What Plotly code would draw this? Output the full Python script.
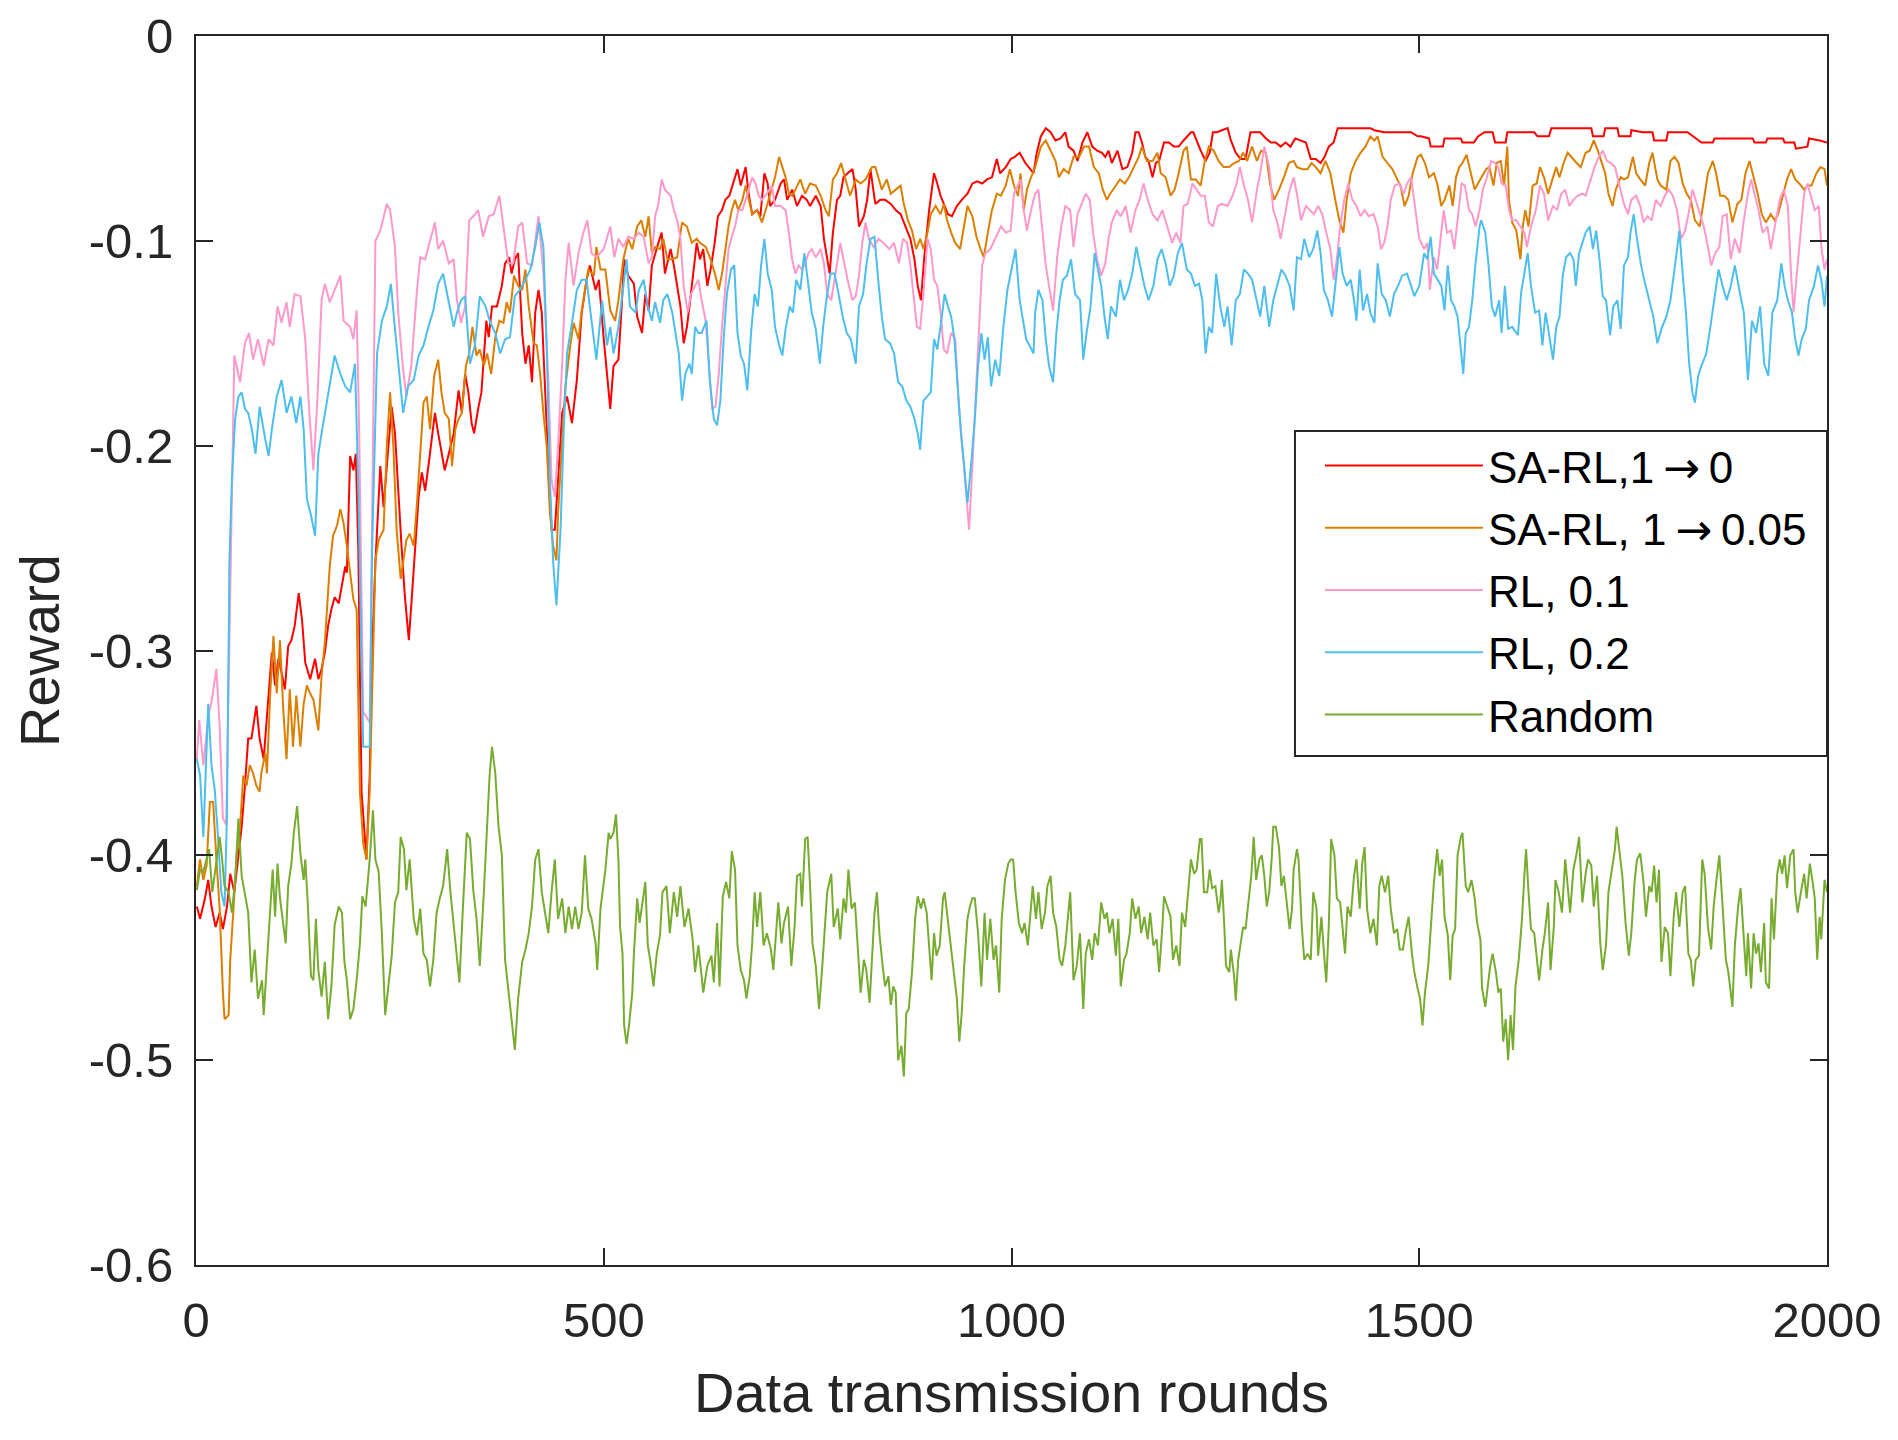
import plotly.graph_objects as go

# (round, reward) pairs
sarl_1_to_0 = [
    (1, -0.425), (5, -0.431), (11, -0.421), (15, -0.412), (19, -0.425), (24, -0.435), (29, -0.428), (33, -0.436),
    (38, -0.425), (42, -0.409), (47, -0.418), (52, -0.399), (56, -0.386), (60, -0.366), (64, -0.343), (68, -0.343),
    (74, -0.327), (78, -0.343), (83, -0.353), (87, -0.332), (93, -0.301), (97, -0.317), (101, -0.304), (105, -0.311),
    (109, -0.319), (113, -0.298), (117, -0.295), (121, -0.288), (126, -0.272), (130, -0.285), (134, -0.306), (140, -0.314),
    (146, -0.304), (150, -0.314), (154, -0.309), (158, -0.301), (162, -0.288), (166, -0.280), (170, -0.274), (175, -0.277),
    (179, -0.267), (183, -0.259), (185, -0.262), (189, -0.205), (193, -0.212), (196, -0.204), (199, -0.250), (203, -0.369),
    (209, -0.402), (213, -0.361), (216, -0.300), (220, -0.257), (226, -0.210), (230, -0.230), (236, -0.200), (240, -0.181),
    (244, -0.194), (248, -0.225), (252, -0.249), (256, -0.273), (261, -0.295), (265, -0.272), (269, -0.249), (273, -0.225),
    (277, -0.213), (281, -0.222), (285, -0.210), (289, -0.197), (293, -0.184), (297, -0.194), (301, -0.204), (305, -0.212),
    (310, -0.204), (316, -0.194), (322, -0.173), (326, -0.184), (330, -0.165), (334, -0.174), (338, -0.189), (341, -0.194),
    (346, -0.182), (350, -0.174), (356, -0.139), (359, -0.147), (363, -0.132), (369, -0.132), (375, -0.122), (379, -0.111),
    (384, -0.108), (387, -0.116), (391, -0.109), (395, -0.106), (400, -0.145), (404, -0.160), (408, -0.151), (412, -0.169),
    (416, -0.135), (420, -0.124), (424, -0.135), (428, -0.176), (432, -0.209), (436, -0.241), (440, -0.241), (444, -0.217),
    (449, -0.184), (455, -0.176), (461, -0.189), (467, -0.168), (473, -0.135), (479, -0.119), (483, -0.112), (490, -0.124),
    (494, -0.119), (500, -0.148), (508, -0.182), (512, -0.161), (518, -0.158), (522, -0.132), (525, -0.109), (530, -0.117),
    (537, -0.121), (541, -0.137), (547, -0.145), (551, -0.126), (555, -0.134), (559, -0.112), (563, -0.106), (567, -0.101),
    (571, -0.096), (575, -0.116), (582, -0.104), (586, -0.112), (590, -0.122), (594, -0.132), (598, -0.150), (602, -0.142),
    (606, -0.129), (610, -0.116), (614, -0.101), (618, -0.109), (622, -0.104), (627, -0.122), (631, -0.114), (636, -0.101),
    (640, -0.088), (645, -0.085), (649, -0.080), (654, -0.078), (659, -0.072), (664, -0.065), (668, -0.073), (674, -0.064),
    (678, -0.078), (682, -0.087), (688, -0.085), (692, -0.088), (697, -0.067), (701, -0.072), (704, -0.083), (710, -0.080),
    (717, -0.072), (721, -0.070), (725, -0.080), (731, -0.075), (737, -0.083), (743, -0.078), (749, -0.080), (753, -0.083),
    (760, -0.078), (766, -0.083), (770, -0.099), (774, -0.109), (777, -0.116), (781, -0.096), (786, -0.080), (790, -0.078),
    (794, -0.069), (799, -0.067), (805, -0.065), (809, -0.075), (813, -0.093), (819, -0.088), (823, -0.080), (827, -0.065),
    (833, -0.082), (839, -0.080), (845, -0.080), (852, -0.082), (858, -0.085), (864, -0.087), (870, -0.093), (876, -0.099),
    (881, -0.109), (885, -0.122), (889, -0.129), (893, -0.108), (899, -0.085), (905, -0.067), (909, -0.072), (913, -0.078),
    (917, -0.082), (922, -0.087), (927, -0.088), (933, -0.083), (939, -0.080), (946, -0.077), (952, -0.072), (958, -0.071),
    (964, -0.072), (970, -0.070), (976, -0.069), (982, -0.060), (986, -0.067), (993, -0.064), (999, -0.060), (1004, -0.059),
    (1010, -0.057), (1017, -0.062), (1023, -0.065), (1027, -0.067), (1031, -0.057), (1036, -0.049), (1042, -0.045), (1048, -0.047),
    (1054, -0.051), (1060, -0.050), (1066, -0.047), (1070, -0.054), (1076, -0.056), (1081, -0.061), (1087, -0.052), (1093, -0.047),
    (1099, -0.054), (1105, -0.056), (1111, -0.057), (1115, -0.059), (1119, -0.056), (1123, -0.062), (1130, -0.056), (1136, -0.065),
    (1142, -0.064), (1148, -0.057), (1152, -0.047), (1156, -0.047), (1160, -0.052), (1164, -0.059), (1168, -0.061), (1173, -0.069),
    (1177, -0.062), (1181, -0.061), (1187, -0.052), (1193, -0.052), (1199, -0.054), (1205, -0.054), (1211, -0.051), (1215, -0.049),
    (1220, -0.047), (1223, -0.047), (1227, -0.051), (1232, -0.056), (1238, -0.061), (1243, -0.057), (1247, -0.047), (1252, -0.047),
    (1258, -0.046), (1265, -0.045), (1269, -0.051), (1275, -0.057), (1281, -0.060), (1287, -0.060), (1293, -0.047), (1299, -0.047),
    (1305, -0.047), (1312, -0.050), (1318, -0.052), (1324, -0.052), (1330, -0.054), (1336, -0.052), (1342, -0.054), (1348, -0.050),
    (1355, -0.051), (1361, -0.052), (1367, -0.060), (1373, -0.060), (1379, -0.062), (1384, -0.059), (1389, -0.054), (1395, -0.052),
    (1400, -0.045), (1420, -0.045), (1440, -0.045), (1445, -0.046), (1457, -0.047), (1469, -0.047), (1490, -0.047), (1498, -0.049),
    (1502, -0.049), (1512, -0.050), (1514, -0.054), (1529, -0.054), (1531, -0.050), (1551, -0.050), (1553, -0.052), (1567, -0.052),
    (1572, -0.049), (1580, -0.047), (1590, -0.047), (1593, -0.052), (1606, -0.052), (1608, -0.047), (1641, -0.047), (1645, -0.049),
    (1659, -0.049), (1662, -0.045), (1711, -0.045), (1713, -0.049), (1726, -0.049), (1728, -0.045), (1743, -0.045), (1745, -0.049),
    (1759, -0.049), (1760, -0.046), (1774, -0.047), (1786, -0.047), (1788, -0.051), (1803, -0.051), (1805, -0.047), (1829, -0.047),
    (1846, -0.052), (1860, -0.052), (1862, -0.050), (1909, -0.050), (1911, -0.052), (1925, -0.052), (1927, -0.050), (1946, -0.050),
    (1948, -0.052), (1960, -0.052), (1962, -0.055), (1976, -0.054), (1978, -0.050), (1991, -0.051), (2000, -0.052),
]

sarl_1_to_005 = [
    (1, -0.415), (5, -0.402), (9, -0.412), (13, -0.405), (17, -0.374), (21, -0.374), (25, -0.402), (29, -0.426),
    (33, -0.467), (35, -0.480), (40, -0.478), (42, -0.451), (46, -0.426), (50, -0.399), (54, -0.386), (58, -0.361),
    (62, -0.366), (66, -0.356), (70, -0.360), (74, -0.366), (78, -0.369), (80, -0.360), (85, -0.350), (87, -0.360),
    (91, -0.321), (95, -0.293), (99, -0.321), (103, -0.295), (107, -0.329), (111, -0.353), (115, -0.319), (119, -0.347),
    (123, -0.322), (128, -0.347), (132, -0.326), (136, -0.317), (140, -0.321), (144, -0.324), (150, -0.339), (154, -0.312),
    (158, -0.296), (164, -0.259), (168, -0.244), (173, -0.239), (177, -0.231), (181, -0.238), (185, -0.249), (189, -0.262),
    (193, -0.275), (197, -0.280), (201, -0.369), (205, -0.394), (209, -0.402), (213, -0.369), (217, -0.304), (220, -0.256),
    (224, -0.246), (230, -0.241), (234, -0.200), (238, -0.174), (242, -0.200), (246, -0.241), (251, -0.265), (254, -0.256),
    (258, -0.246), (262, -0.243), (267, -0.249), (271, -0.228), (275, -0.205), (279, -0.179), (283, -0.176), (287, -0.192),
    (292, -0.166), (297, -0.158), (301, -0.174), (305, -0.184), (310, -0.187), (314, -0.210), (318, -0.192), (322, -0.187),
    (326, -0.184), (331, -0.161), (335, -0.155), (339, -0.142), (344, -0.156), (348, -0.153), (353, -0.161), (357, -0.155),
    (362, -0.165), (367, -0.147), (372, -0.139), (377, -0.140), (381, -0.130), (385, -0.135), (390, -0.117), (395, -0.122),
    (400, -0.124), (404, -0.114), (408, -0.132), (414, -0.150), (418, -0.151), (422, -0.165), (426, -0.184), (430, -0.200),
    (434, -0.233), (438, -0.249), (442, -0.256), (444, -0.233), (449, -0.197), (453, -0.171), (459, -0.151), (463, -0.140),
    (469, -0.148), (473, -0.134), (477, -0.124), (481, -0.114), (488, -0.117), (491, -0.103), (496, -0.114), (502, -0.114),
    (508, -0.134), (514, -0.139), (518, -0.129), (524, -0.109), (530, -0.099), (535, -0.104), (541, -0.093), (546, -0.090),
    (551, -0.098), (555, -0.088), (559, -0.106), (563, -0.103), (569, -0.104), (573, -0.099), (578, -0.109), (584, -0.109),
    (590, -0.108), (596, -0.091), (602, -0.093), (608, -0.101), (614, -0.099), (618, -0.101), (625, -0.103), (631, -0.109),
    (637, -0.117), (641, -0.124), (645, -0.116), (649, -0.104), (653, -0.093), (657, -0.085), (661, -0.080), (665, -0.085),
    (670, -0.080), (674, -0.073), (678, -0.080), (682, -0.087), (688, -0.085), (694, -0.091), (700, -0.083), (706, -0.075),
    (710, -0.069), (715, -0.059), (719, -0.064), (723, -0.069), (727, -0.077), (731, -0.078), (735, -0.075), (741, -0.070),
    (747, -0.077), (753, -0.072), (760, -0.073), (766, -0.078), (772, -0.085), (776, -0.088), (781, -0.070), (786, -0.067),
    (791, -0.062), (796, -0.069), (802, -0.078), (809, -0.070), (815, -0.072), (821, -0.070), (825, -0.067), (829, -0.064),
    (833, -0.064), (837, -0.069), (841, -0.075), (847, -0.070), (852, -0.077), (858, -0.075), (864, -0.073), (868, -0.082),
    (873, -0.090), (878, -0.095), (883, -0.104), (888, -0.099), (892, -0.104), (897, -0.096), (901, -0.087), (907, -0.083),
    (913, -0.087), (917, -0.082), (921, -0.090), (926, -0.096), (931, -0.101), (937, -0.104), (942, -0.091), (946, -0.083),
    (952, -0.088), (957, -0.098), (962, -0.104), (966, -0.108), (971, -0.096), (976, -0.085), (982, -0.077), (987, -0.078),
    (993, -0.073), (998, -0.065), (1003, -0.073), (1008, -0.078), (1011, -0.067), (1015, -0.085), (1019, -0.075), (1023, -0.070),
    (1029, -0.064), (1036, -0.054), (1042, -0.051), (1048, -0.056), (1054, -0.061), (1058, -0.069), (1064, -0.065), (1070, -0.067),
    (1076, -0.059), (1083, -0.059), (1089, -0.054), (1095, -0.054), (1101, -0.064), (1107, -0.067), (1112, -0.075), (1117, -0.080),
    (1121, -0.077), (1128, -0.073), (1133, -0.070), (1139, -0.072), (1144, -0.069), (1150, -0.064), (1156, -0.059), (1160, -0.054),
    (1166, -0.061), (1173, -0.061), (1179, -0.057), (1183, -0.067), (1189, -0.069), (1195, -0.078), (1200, -0.075), (1205, -0.067),
    (1211, -0.056), (1215, -0.054), (1220, -0.070), (1226, -0.070), (1232, -0.073), (1237, -0.061), (1242, -0.054), (1248, -0.056),
    (1254, -0.061), (1260, -0.064), (1267, -0.064), (1273, -0.062), (1279, -0.061), (1284, -0.057), (1289, -0.061), (1295, -0.054),
    (1301, -0.061), (1306, -0.056), (1312, -0.057), (1317, -0.072), (1322, -0.080), (1328, -0.075), (1334, -0.069), (1340, -0.062),
    (1346, -0.061), (1350, -0.064), (1357, -0.065), (1363, -0.065), (1368, -0.062), (1373, -0.064), (1379, -0.067), (1385, -0.061),
    (1391, -0.067), (1398, -0.082), (1402, -0.090), (1407, -0.096), (1411, -0.080), (1416, -0.067), (1422, -0.061), (1428, -0.057),
    (1434, -0.054), (1440, -0.049), (1445, -0.051), (1449, -0.049), (1455, -0.059), (1461, -0.062), (1467, -0.065), (1473, -0.070),
    (1477, -0.073), (1482, -0.083), (1487, -0.078), (1492, -0.067), (1498, -0.059), (1502, -0.058), (1507, -0.062), (1512, -0.069),
    (1518, -0.067), (1522, -0.072), (1527, -0.083), (1531, -0.080), (1537, -0.073), (1541, -0.083), (1545, -0.069), (1549, -0.064),
    (1553, -0.062), (1558, -0.058), (1563, -0.067), (1568, -0.075), (1572, -0.072), (1578, -0.068), (1582, -0.065), (1586, -0.064),
    (1591, -0.073), (1595, -0.062), (1600, -0.061), (1604, -0.073), (1608, -0.054), (1610, -0.080), (1614, -0.091), (1619, -0.095),
    (1624, -0.109), (1627, -0.093), (1630, -0.085), (1634, -0.093), (1639, -0.073), (1644, -0.072), (1648, -0.064), (1653, -0.069),
    (1658, -0.077), (1664, -0.069), (1668, -0.064), (1672, -0.069), (1677, -0.062), (1682, -0.057), (1688, -0.060), (1693, -0.062),
    (1698, -0.064), (1704, -0.057), (1709, -0.056), (1714, -0.051), (1719, -0.056), (1723, -0.061), (1728, -0.067), (1732, -0.077),
    (1737, -0.083), (1741, -0.075), (1747, -0.069), (1751, -0.070), (1756, -0.069), (1762, -0.059), (1766, -0.067), (1771, -0.070),
    (1777, -0.073), (1782, -0.062), (1786, -0.057), (1792, -0.070), (1796, -0.073), (1803, -0.075), (1808, -0.061), (1813, -0.059),
    (1818, -0.062), (1823, -0.072), (1828, -0.077), (1833, -0.080), (1838, -0.090), (1844, -0.093), (1849, -0.080), (1854, -0.067),
    (1860, -0.061), (1864, -0.067), (1869, -0.078), (1874, -0.078), (1879, -0.080), (1884, -0.091), (1890, -0.082), (1895, -0.080),
    (1900, -0.067), (1905, -0.061), (1910, -0.069), (1915, -0.077), (1920, -0.087), (1925, -0.091), (1931, -0.087), (1936, -0.090),
    (1940, -0.087), (1946, -0.078), (1951, -0.070), (1956, -0.065), (1961, -0.070), (1966, -0.072), (1972, -0.075), (1976, -0.073),
    (1981, -0.073), (1987, -0.067), (1992, -0.064), (1997, -0.065), (2000, -0.073),
]

rl_01 = [
    (1, -0.353), (4, -0.334), (9, -0.356), (15, -0.332), (19, -0.325), (25, -0.309), (29, -0.337), (33, -0.382),
    (37, -0.385), (47, -0.156), (54, -0.169), (60, -0.150), (65, -0.145), (70, -0.158), (76, -0.148), (83, -0.161),
    (89, -0.148), (95, -0.151), (100, -0.132), (105, -0.140), (111, -0.130), (115, -0.142), (121, -0.126), (128, -0.127),
    (134, -0.148), (139, -0.184), (144, -0.212), (149, -0.176), (154, -0.129), (158, -0.121), (164, -0.130), (170, -0.124),
    (177, -0.117), (181, -0.139), (189, -0.142), (193, -0.148), (197, -0.134), (200, -0.190), (205, -0.330), (213, -0.335),
    (220, -0.100), (226, -0.095), (234, -0.082), (238, -0.085), (244, -0.103), (248, -0.135), (254, -0.163), (258, -0.176),
    (264, -0.161), (271, -0.124), (275, -0.108), (281, -0.109), (287, -0.100), (293, -0.091), (297, -0.104), (303, -0.100),
    (310, -0.111), (316, -0.109), (320, -0.129), (325, -0.140), (330, -0.132), (335, -0.090), (340, -0.088), (346, -0.085),
    (352, -0.098), (359, -0.088), (365, -0.087), (372, -0.078), (377, -0.093), (383, -0.111), (389, -0.111), (395, -0.093),
    (400, -0.091), (406, -0.111), (412, -0.112), (420, -0.088), (426, -0.116), (432, -0.168), (436, -0.217), (440, -0.225),
    (444, -0.200), (449, -0.160), (453, -0.119), (457, -0.101), (463, -0.122), (469, -0.106), (475, -0.096), (480, -0.090),
    (485, -0.106), (491, -0.108), (500, -0.104), (508, -0.093), (513, -0.108), (518, -0.099), (524, -0.103), (530, -0.098),
    (537, -0.099), (543, -0.096), (549, -0.098), (555, -0.111), (559, -0.108), (563, -0.088), (567, -0.082), (571, -0.070),
    (575, -0.075), (582, -0.078), (586, -0.085), (590, -0.090), (594, -0.099), (598, -0.122), (603, -0.135), (607, -0.126),
    (612, -0.122), (616, -0.119), (620, -0.129), (625, -0.139), (629, -0.161), (633, -0.182), (637, -0.181), (641, -0.165),
    (645, -0.142), (649, -0.121), (653, -0.104), (657, -0.098), (661, -0.093), (665, -0.085), (670, -0.085), (674, -0.080),
    (678, -0.075), (682, -0.069), (686, -0.072), (690, -0.078), (694, -0.080), (700, -0.077), (706, -0.073), (710, -0.083),
    (717, -0.083), (723, -0.085), (727, -0.096), (731, -0.109), (735, -0.116), (739, -0.112), (743, -0.114), (747, -0.111),
    (751, -0.106), (755, -0.104), (760, -0.108), (766, -0.104), (770, -0.111), (774, -0.126), (779, -0.129), (784, -0.117),
    (790, -0.101), (794, -0.109), (799, -0.119), (805, -0.129), (809, -0.127), (813, -0.117), (817, -0.101), (821, -0.091),
    (825, -0.099), (831, -0.103), (837, -0.099), (843, -0.101), (850, -0.104), (856, -0.101), (862, -0.111), (867, -0.099),
    (872, -0.101), (876, -0.112), (881, -0.129), (884, -0.142), (888, -0.143), (892, -0.126), (897, -0.099), (901, -0.104),
    (905, -0.119), (909, -0.122), (913, -0.135), (917, -0.153), (921, -0.155), (926, -0.145), (931, -0.148), (935, -0.178),
    (940, -0.202), (944, -0.223), (948, -0.241), (952, -0.210), (956, -0.178), (960, -0.145), (964, -0.112), (968, -0.106),
    (974, -0.104), (980, -0.099), (987, -0.093), (993, -0.096), (999, -0.095), (1003, -0.077), (1008, -0.073), (1011, -0.070),
    (1015, -0.085), (1019, -0.095), (1024, -0.085), (1029, -0.077), (1033, -0.075), (1038, -0.096), (1042, -0.112), (1046, -0.122),
    (1051, -0.134), (1056, -0.108), (1061, -0.093), (1066, -0.083), (1072, -0.085), (1076, -0.103), (1081, -0.087), (1085, -0.083),
    (1091, -0.077), (1096, -0.080), (1100, -0.096), (1105, -0.109), (1110, -0.117), (1115, -0.111), (1119, -0.099), (1123, -0.091),
    (1129, -0.085), (1134, -0.088), (1140, -0.083), (1146, -0.096), (1152, -0.085), (1157, -0.080), (1162, -0.072), (1167, -0.080),
    (1173, -0.087), (1179, -0.090), (1185, -0.085), (1191, -0.093), (1197, -0.101), (1202, -0.096), (1207, -0.101), (1211, -0.083),
    (1216, -0.082), (1222, -0.072), (1227, -0.075), (1232, -0.078), (1237, -0.078), (1242, -0.091), (1247, -0.093), (1253, -0.083),
    (1258, -0.082), (1265, -0.083), (1271, -0.078), (1276, -0.072), (1280, -0.064), (1285, -0.073), (1290, -0.080), (1295, -0.091),
    (1301, -0.075), (1305, -0.067), (1310, -0.054), (1316, -0.064), (1321, -0.085), (1326, -0.091), (1330, -0.099), (1335, -0.087),
    (1340, -0.077), (1346, -0.069), (1350, -0.077), (1355, -0.090), (1361, -0.083), (1366, -0.085), (1371, -0.087), (1376, -0.083),
    (1381, -0.087), (1386, -0.096), (1391, -0.104), (1395, -0.119), (1399, -0.109), (1403, -0.093), (1408, -0.080), (1413, -0.072),
    (1418, -0.080), (1423, -0.083), (1428, -0.088), (1433, -0.085), (1438, -0.088), (1444, -0.087), (1449, -0.093), (1453, -0.104),
    (1457, -0.101), (1461, -0.093), (1465, -0.080), (1470, -0.073), (1475, -0.072), (1481, -0.077), (1485, -0.072), (1490, -0.069),
    (1496, -0.087), (1500, -0.099), (1506, -0.104), (1510, -0.101), (1513, -0.124), (1518, -0.108), (1522, -0.114), (1526, -0.101),
    (1530, -0.085), (1534, -0.096), (1539, -0.095), (1543, -0.104), (1548, -0.087), (1552, -0.072), (1556, -0.073), (1561, -0.085),
    (1565, -0.087), (1569, -0.093), (1574, -0.085), (1578, -0.075), (1583, -0.069), (1588, -0.061), (1593, -0.062), (1597, -0.064),
    (1601, -0.072), (1606, -0.073), (1610, -0.085), (1614, -0.090), (1619, -0.090), (1624, -0.093), (1629, -0.096), (1632, -0.103),
    (1637, -0.093), (1643, -0.085), (1648, -0.073), (1653, -0.077), (1658, -0.090), (1664, -0.083), (1669, -0.085), (1674, -0.077),
    (1679, -0.075), (1684, -0.083), (1689, -0.080), (1694, -0.078), (1700, -0.077), (1704, -0.078), (1710, -0.070), (1715, -0.064),
    (1720, -0.059), (1725, -0.056), (1730, -0.061), (1735, -0.062), (1740, -0.064), (1745, -0.072), (1751, -0.082), (1756, -0.087),
    (1760, -0.080), (1766, -0.078), (1771, -0.083), (1775, -0.091), (1780, -0.088), (1785, -0.090), (1790, -0.080), (1796, -0.083),
    (1801, -0.078), (1806, -0.075), (1811, -0.078), (1816, -0.085), (1821, -0.099), (1826, -0.095), (1831, -0.085), (1835, -0.075),
    (1839, -0.080), (1844, -0.087), (1849, -0.093), (1854, -0.103), (1858, -0.112), (1863, -0.106), (1868, -0.103), (1872, -0.088),
    (1877, -0.087), (1882, -0.109), (1887, -0.099), (1893, -0.106), (1898, -0.090), (1903, -0.077), (1907, -0.070), (1911, -0.077),
    (1916, -0.085), (1921, -0.096), (1927, -0.093), (1931, -0.104), (1936, -0.093), (1942, -0.080), (1947, -0.075), (1952, -0.083),
    (1956, -0.117), (1959, -0.135), (1963, -0.116), (1968, -0.093), (1972, -0.077), (1976, -0.072), (1981, -0.080), (1985, -0.085),
    (1990, -0.083), (1993, -0.103), (1997, -0.114), (2000, -0.109),
]

rl_02 = [
    (1, -0.353), (5, -0.361), (9, -0.391), (15, -0.326), (19, -0.356), (23, -0.368), (27, -0.391), (31, -0.418),
    (35, -0.425), (38, -0.380), (41, -0.256), (44, -0.217), (48, -0.187), (52, -0.176), (56, -0.174), (60, -0.182),
    (64, -0.184), (68, -0.191), (73, -0.204), (78, -0.181), (85, -0.197), (89, -0.205), (93, -0.192), (99, -0.176),
    (105, -0.168), (111, -0.184), (117, -0.176), (123, -0.189), (128, -0.176), (132, -0.192), (136, -0.226), (141, -0.234),
    (146, -0.244), (150, -0.204), (154, -0.194), (158, -0.184), (164, -0.171), (170, -0.156), (177, -0.165), (183, -0.171),
    (189, -0.174), (195, -0.160), (199, -0.220), (205, -0.347), (213, -0.347), (216, -0.250), (222, -0.155), (228, -0.139),
    (234, -0.132), (239, -0.121), (244, -0.143), (248, -0.158), (254, -0.184), (260, -0.171), (267, -0.168), (273, -0.156),
    (279, -0.151), (285, -0.142), (291, -0.134), (297, -0.121), (303, -0.116), (310, -0.130), (316, -0.142), (320, -0.135),
    (325, -0.129), (330, -0.127), (336, -0.160), (342, -0.151), (348, -0.127), (355, -0.132), (361, -0.140), (367, -0.145),
    (373, -0.155), (379, -0.148), (385, -0.147), (391, -0.127), (397, -0.124), (404, -0.119), (410, -0.114), (416, -0.103),
    (421, -0.091), (426, -0.103), (430, -0.151), (434, -0.217), (438, -0.257), (442, -0.278), (447, -0.241), (451, -0.192),
    (455, -0.155), (461, -0.140), (467, -0.124), (473, -0.119), (479, -0.119), (485, -0.139), (491, -0.158), (498, -0.129),
    (504, -0.151), (508, -0.142), (512, -0.155), (518, -0.142), (524, -0.122), (528, -0.109), (532, -0.132), (539, -0.135),
    (543, -0.124), (549, -0.119), (554, -0.132), (559, -0.139), (563, -0.130), (569, -0.140), (573, -0.129), (578, -0.126),
    (584, -0.135), (588, -0.145), (592, -0.155), (596, -0.178), (600, -0.165), (605, -0.160), (608, -0.165), (612, -0.142),
    (616, -0.145), (620, -0.145), (626, -0.139), (630, -0.168), (635, -0.187), (639, -0.190), (643, -0.178), (647, -0.148),
    (651, -0.126), (656, -0.114), (660, -0.112), (664, -0.145), (668, -0.156), (672, -0.160), (676, -0.173), (681, -0.143),
    (685, -0.126), (689, -0.132), (693, -0.112), (697, -0.099), (701, -0.116), (706, -0.124), (710, -0.142), (715, -0.151),
    (719, -0.156), (723, -0.143), (728, -0.132), (732, -0.135), (736, -0.119), (741, -0.124), (746, -0.106), (751, -0.122),
    (755, -0.135), (760, -0.143), (765, -0.160), (769, -0.142), (773, -0.129), (778, -0.116), (783, -0.116), (788, -0.126),
    (793, -0.137), (798, -0.145), (803, -0.148), (809, -0.160), (813, -0.132), (818, -0.126), (822, -0.112), (827, -0.099),
    (832, -0.098), (837, -0.121), (841, -0.137), (845, -0.148), (851, -0.150), (856, -0.155), (861, -0.169), (866, -0.171),
    (871, -0.178), (876, -0.181), (881, -0.187), (885, -0.194), (888, -0.202), (892, -0.178), (897, -0.176), (901, -0.174),
    (905, -0.148), (909, -0.153), (914, -0.139), (918, -0.126), (922, -0.132), (926, -0.137), (930, -0.148), (934, -0.169),
    (938, -0.194), (942, -0.210), (946, -0.228), (951, -0.207), (955, -0.187), (959, -0.161), (963, -0.145), (967, -0.158),
    (971, -0.147), (975, -0.171), (980, -0.158), (985, -0.166), (990, -0.142), (995, -0.124), (999, -0.116), (1005, -0.104),
    (1010, -0.129), (1014, -0.139), (1018, -0.148), (1022, -0.151), (1027, -0.155), (1029, -0.135), (1033, -0.124), (1038, -0.129),
    (1042, -0.148), (1046, -0.161), (1051, -0.169), (1055, -0.145), (1059, -0.129), (1063, -0.119), (1068, -0.117), (1073, -0.109),
    (1078, -0.126), (1084, -0.129), (1088, -0.158), (1092, -0.145), (1097, -0.132), (1102, -0.106), (1106, -0.114), (1110, -0.122),
    (1114, -0.137), (1118, -0.148), (1122, -0.132), (1128, -0.137), (1133, -0.119), (1138, -0.129), (1143, -0.124), (1148, -0.116),
    (1153, -0.103), (1158, -0.112), (1163, -0.122), (1168, -0.129), (1174, -0.122), (1179, -0.109), (1184, -0.104), (1189, -0.111),
    (1194, -0.122), (1199, -0.117), (1204, -0.106), (1209, -0.101), (1215, -0.114), (1220, -0.116), (1225, -0.122), (1230, -0.121),
    (1234, -0.129), (1238, -0.155), (1242, -0.142), (1246, -0.145), (1251, -0.116), (1256, -0.132), (1261, -0.142), (1265, -0.132),
    (1270, -0.151), (1275, -0.129), (1280, -0.126), (1285, -0.114), (1290, -0.116), (1295, -0.119), (1301, -0.129), (1305, -0.137),
    (1310, -0.122), (1316, -0.142), (1321, -0.129), (1326, -0.122), (1331, -0.114), (1336, -0.117), (1341, -0.122), (1346, -0.134),
    (1350, -0.108), (1355, -0.109), (1359, -0.099), (1365, -0.108), (1370, -0.104), (1375, -0.095), (1379, -0.106), (1383, -0.124),
    (1388, -0.129), (1393, -0.137), (1398, -0.116), (1402, -0.103), (1406, -0.116), (1411, -0.122), (1416, -0.119), (1420, -0.129),
    (1423, -0.139), (1427, -0.114), (1431, -0.134), (1436, -0.126), (1440, -0.135), (1445, -0.140), (1449, -0.111), (1454, -0.126),
    (1459, -0.129), (1464, -0.137), (1469, -0.126), (1474, -0.122), (1479, -0.117), (1485, -0.116), (1490, -0.122), (1494, -0.127),
    (1500, -0.122), (1506, -0.106), (1510, -0.109), (1514, -0.098), (1518, -0.116), (1522, -0.119), (1527, -0.122), (1531, -0.134),
    (1535, -0.112), (1539, -0.129), (1543, -0.132), (1547, -0.137), (1550, -0.148), (1554, -0.165), (1557, -0.145), (1561, -0.142),
    (1565, -0.129), (1569, -0.111), (1574, -0.093), (1576, -0.090), (1581, -0.096), (1585, -0.112), (1589, -0.132), (1593, -0.137),
    (1598, -0.129), (1601, -0.145), (1605, -0.122), (1609, -0.143), (1614, -0.142), (1621, -0.146), (1625, -0.125), (1629, -0.116),
    (1633, -0.106), (1637, -0.122), (1642, -0.135), (1647, -0.134), (1651, -0.151), (1655, -0.135), (1659, -0.145), (1664, -0.158),
    (1668, -0.142), (1672, -0.137), (1676, -0.117), (1680, -0.108), (1685, -0.106), (1689, -0.109), (1692, -0.122), (1696, -0.106),
    (1700, -0.101), (1704, -0.096), (1709, -0.093), (1713, -0.104), (1717, -0.095), (1721, -0.109), (1725, -0.127), (1729, -0.129),
    (1734, -0.146), (1738, -0.132), (1743, -0.129), (1747, -0.143), (1751, -0.112), (1756, -0.108), (1759, -0.096), (1763, -0.087),
    (1767, -0.099), (1772, -0.112), (1777, -0.121), (1782, -0.129), (1787, -0.137), (1792, -0.150), (1797, -0.143), (1803, -0.137),
    (1808, -0.129), (1812, -0.117), (1816, -0.104), (1819, -0.095), (1823, -0.116), (1827, -0.135), (1831, -0.160), (1835, -0.174),
    (1838, -0.179), (1842, -0.166), (1846, -0.161), (1852, -0.155), (1857, -0.142), (1862, -0.129), (1867, -0.114), (1872, -0.122),
    (1877, -0.129), (1882, -0.122), (1887, -0.112), (1893, -0.125), (1898, -0.135), (1903, -0.168), (1908, -0.139), (1913, -0.145),
    (1918, -0.132), (1923, -0.160), (1928, -0.166), (1933, -0.135), (1939, -0.129), (1944, -0.111), (1948, -0.122), (1952, -0.129),
    (1957, -0.135), (1961, -0.148), (1965, -0.156), (1969, -0.148), (1974, -0.143), (1978, -0.129), (1984, -0.122), (1989, -0.112),
    (1993, -0.119), (1997, -0.132), (2000, -0.117),
]

random_policy = [
    (1, -0.417), (5, -0.407), (9, -0.408), (13, -0.402), (16, -0.397), (20, -0.418), (24, -0.407), (29, -0.391),
    (32, -0.402), (35, -0.415), (40, -0.418), (44, -0.428), (48, -0.412), (52, -0.382), (56, -0.410), (60, -0.420),
    (64, -0.428), (68, -0.462), (72, -0.446), (76, -0.470), (81, -0.461), (83, -0.478), (87, -0.454), (91, -0.428),
    (94, -0.407), (97, -0.430), (100, -0.404), (103, -0.421), (107, -0.434), (110, -0.443), (113, -0.415), (117, -0.404),
    (120, -0.389), (124, -0.376), (128, -0.399), (132, -0.412), (134, -0.402), (137, -0.423), (141, -0.459), (144, -0.461),
    (147, -0.431), (150, -0.456), (154, -0.469), (158, -0.452), (162, -0.480), (166, -0.464), (170, -0.434), (175, -0.425),
    (179, -0.428), (182, -0.452), (185, -0.461), (189, -0.480), (193, -0.475), (197, -0.461), (201, -0.443), (204, -0.420),
    (208, -0.425), (213, -0.402), (217, -0.378), (220, -0.402), (224, -0.408), (228, -0.439), (232, -0.478), (236, -0.465),
    (240, -0.449), (244, -0.423), (248, -0.418), (251, -0.391), (255, -0.397), (258, -0.417), (262, -0.402), (267, -0.431),
    (271, -0.439), (275, -0.426), (279, -0.448), (283, -0.451), (287, -0.464), (291, -0.451), (295, -0.428), (299, -0.421),
    (303, -0.415), (308, -0.397), (312, -0.418), (316, -0.434), (320, -0.451), (323, -0.462), (327, -0.428), (332, -0.389),
    (336, -0.392), (340, -0.417), (344, -0.431), (348, -0.454), (353, -0.418), (357, -0.382), (360, -0.361), (363, -0.347),
    (367, -0.360), (371, -0.386), (375, -0.400), (379, -0.451), (383, -0.465), (387, -0.482), (391, -0.495), (395, -0.470),
    (400, -0.452), (404, -0.446), (408, -0.438), (412, -0.425), (416, -0.402), (420, -0.397), (424, -0.418), (428, -0.428),
    (432, -0.438), (436, -0.418), (440, -0.402), (444, -0.431), (449, -0.421), (453, -0.438), (457, -0.425), (461, -0.436),
    (465, -0.425), (469, -0.436), (473, -0.428), (477, -0.400), (481, -0.426), (485, -0.431), (490, -0.443), (492, -0.456),
    (496, -0.426), (502, -0.407), (506, -0.389), (508, -0.392), (512, -0.389), (515, -0.380), (518, -0.402), (520, -0.435),
    (523, -0.448), (525, -0.483), (528, -0.492), (531, -0.483), (535, -0.467), (537, -0.448), (541, -0.421), (544, -0.433),
    (548, -0.421), (551, -0.413), (554, -0.444), (557, -0.451), (561, -0.464), (565, -0.448), (569, -0.439), (572, -0.418),
    (577, -0.415), (581, -0.438), (586, -0.418), (590, -0.430), (594, -0.415), (599, -0.435), (604, -0.426), (609, -0.441),
    (612, -0.457), (616, -0.444), (620, -0.459), (622, -0.467), (627, -0.454), (632, -0.449), (635, -0.462), (639, -0.433),
    (642, -0.464), (646, -0.420), (650, -0.413), (654, -0.421), (657, -0.398), (661, -0.407), (664, -0.444), (668, -0.456),
    (672, -0.461), (675, -0.470), (679, -0.459), (682, -0.443), (685, -0.418), (688, -0.435), (692, -0.418), (696, -0.444),
    (700, -0.438), (705, -0.446), (708, -0.456), (711, -0.438), (714, -0.423), (718, -0.443), (721, -0.433), (726, -0.425),
    (730, -0.454), (734, -0.435), (737, -0.410), (741, -0.409), (743, -0.425), (747, -0.392), (750, -0.391), (753, -0.415),
    (756, -0.443), (760, -0.454), (764, -0.475), (768, -0.454), (771, -0.435), (774, -0.418), (779, -0.409), (782, -0.435),
    (787, -0.426), (790, -0.441), (794, -0.421), (797, -0.428), (800, -0.407), (804, -0.426), (808, -0.423), (811, -0.441),
    (815, -0.467), (819, -0.451), (822, -0.456), (826, -0.472), (829, -0.448), (832, -0.428), (835, -0.418), (838, -0.438),
    (842, -0.454), (845, -0.464), (849, -0.459), (852, -0.473), (855, -0.464), (858, -0.467), (861, -0.500), (865, -0.493),
    (868, -0.508), (871, -0.477), (874, -0.475), (878, -0.457), (882, -0.430), (885, -0.420), (889, -0.426), (892, -0.421),
    (896, -0.428), (900, -0.451), (902, -0.461), (905, -0.438), (908, -0.449), (912, -0.444), (916, -0.421), (918, -0.418),
    (921, -0.428), (925, -0.444), (929, -0.457), (933, -0.470), (936, -0.491), (939, -0.477), (942, -0.454), (946, -0.431),
    (949, -0.425), (952, -0.421), (955, -0.421), (959, -0.438), (963, -0.464), (967, -0.428), (970, -0.451), (974, -0.431),
    (978, -0.451), (981, -0.444), (985, -0.467), (988, -0.431), (992, -0.412), (996, -0.404), (999, -0.402), (1002, -0.402),
    (1005, -0.418), (1009, -0.433), (1013, -0.438), (1016, -0.433), (1020, -0.444), (1023, -0.430), (1026, -0.415), (1030, -0.431),
    (1033, -0.418), (1037, -0.436), (1041, -0.428), (1044, -0.415), (1048, -0.410), (1051, -0.428), (1055, -0.435), (1059, -0.451),
    (1062, -0.454), (1066, -0.444), (1070, -0.428), (1072, -0.418), (1076, -0.461), (1080, -0.454), (1084, -0.438), (1088, -0.475),
    (1091, -0.448), (1095, -0.441), (1099, -0.451), (1102, -0.438), (1106, -0.444), (1110, -0.423), (1114, -0.431), (1117, -0.428),
    (1120, -0.438), (1124, -0.431), (1128, -0.449), (1131, -0.431), (1134, -0.464), (1138, -0.451), (1141, -0.448), (1145, -0.438),
    (1148, -0.421), (1152, -0.431), (1156, -0.425), (1159, -0.438), (1163, -0.430), (1167, -0.441), (1170, -0.428), (1174, -0.444),
    (1178, -0.441), (1181, -0.457), (1185, -0.435), (1187, -0.420), (1191, -0.425), (1195, -0.430), (1198, -0.451), (1202, -0.444),
    (1206, -0.454), (1209, -0.428), (1213, -0.435), (1216, -0.421), (1220, -0.402), (1224, -0.409), (1227, -0.407), (1231, -0.392),
    (1233, -0.392), (1236, -0.418), (1240, -0.418), (1243, -0.407), (1246, -0.416), (1250, -0.415), (1254, -0.428), (1256, -0.423),
    (1258, -0.412), (1261, -0.435), (1263, -0.454), (1267, -0.457), (1269, -0.446), (1273, -0.459), (1275, -0.471), (1278, -0.451),
    (1281, -0.444), (1284, -0.435), (1287, -0.436), (1291, -0.421), (1294, -0.410), (1297, -0.391), (1300, -0.412), (1304, -0.402),
    (1307, -0.400), (1310, -0.410), (1313, -0.425), (1316, -0.418), (1319, -0.402), (1321, -0.386), (1324, -0.386), (1328, -0.396),
    (1331, -0.415), (1334, -0.410), (1338, -0.426), (1341, -0.436), (1344, -0.426), (1346, -0.407), (1350, -0.397), (1352, -0.402),
    (1356, -0.435), (1359, -0.451), (1363, -0.448), (1367, -0.451), (1370, -0.418), (1374, -0.426), (1376, -0.449), (1380, -0.430),
    (1384, -0.452), (1386, -0.462), (1389, -0.435), (1392, -0.392), (1396, -0.400), (1399, -0.421), (1403, -0.423), (1406, -0.435),
    (1409, -0.448), (1412, -0.425), (1416, -0.430), (1420, -0.410), (1423, -0.402), (1427, -0.426), (1430, -0.404), (1433, -0.396),
    (1436, -0.426), (1440, -0.438), (1444, -0.431), (1448, -0.444), (1451, -0.415), (1454, -0.410), (1458, -0.418), (1462, -0.410),
    (1465, -0.426), (1469, -0.438), (1473, -0.436), (1476, -0.446), (1480, -0.446), (1483, -0.438), (1487, -0.430), (1491, -0.448),
    (1494, -0.457), (1498, -0.465), (1501, -0.470), (1504, -0.483), (1507, -0.467), (1511, -0.454), (1515, -0.431), (1518, -0.413),
    (1522, -0.397), (1525, -0.410), (1528, -0.402), (1531, -0.430), (1535, -0.439), (1538, -0.461), (1541, -0.439), (1544, -0.436),
    (1547, -0.400), (1551, -0.391), (1553, -0.389), (1557, -0.415), (1560, -0.418), (1564, -0.412), (1568, -0.421), (1571, -0.433),
    (1575, -0.441), (1577, -0.465), (1581, -0.474), (1584, -0.464), (1587, -0.454), (1590, -0.448), (1594, -0.457), (1597, -0.467),
    (1600, -0.465), (1603, -0.491), (1606, -0.480), (1609, -0.500), (1612, -0.478), (1615, -0.495), (1618, -0.464), (1622, -0.451),
    (1626, -0.431), (1629, -0.409), (1631, -0.397), (1634, -0.418), (1637, -0.436), (1641, -0.438), (1644, -0.451), (1647, -0.461),
    (1651, -0.446), (1654, -0.438), (1658, -0.423), (1661, -0.456), (1665, -0.435), (1667, -0.412), (1671, -0.418), (1675, -0.428),
    (1679, -0.402), (1682, -0.415), (1685, -0.428), (1689, -0.407), (1693, -0.399), (1696, -0.391), (1700, -0.423), (1704, -0.409),
    (1707, -0.402), (1711, -0.405), (1714, -0.425), (1718, -0.410), (1722, -0.443), (1725, -0.456), (1729, -0.444), (1732, -0.418),
    (1736, -0.407), (1740, -0.397), (1742, -0.386), (1746, -0.400), (1749, -0.410), (1753, -0.433), (1757, -0.449), (1760, -0.438),
    (1764, -0.413), (1767, -0.402), (1771, -0.399), (1775, -0.413), (1778, -0.430), (1782, -0.415), (1785, -0.418), (1788, -0.405),
    (1791, -0.423), (1794, -0.407), (1797, -0.452), (1801, -0.435), (1805, -0.438), (1808, -0.459), (1812, -0.430), (1815, -0.418),
    (1819, -0.435), (1823, -0.418), (1826, -0.415), (1830, -0.448), (1833, -0.451), (1836, -0.464), (1839, -0.451), (1843, -0.449),
    (1847, -0.402), (1850, -0.409), (1854, -0.435), (1858, -0.446), (1861, -0.425), (1865, -0.410), (1868, -0.400), (1872, -0.425),
    (1876, -0.451), (1879, -0.457), (1884, -0.474), (1887, -0.444), (1891, -0.425), (1894, -0.416), (1897, -0.435), (1901, -0.459),
    (1903, -0.438), (1907, -0.465), (1910, -0.438), (1913, -0.448), (1916, -0.443), (1919, -0.457), (1923, -0.433), (1925, -0.462),
    (1929, -0.465), (1932, -0.421), (1935, -0.441), (1939, -0.409), (1942, -0.402), (1945, -0.409), (1948, -0.400), (1951, -0.416),
    (1955, -0.400), (1959, -0.397), (1961, -0.418), (1964, -0.428), (1968, -0.418), (1972, -0.409), (1975, -0.421), (1979, -0.404),
    (1982, -0.412), (1985, -0.421), (1988, -0.451), (1991, -0.430), (1993, -0.441), (1997, -0.412), (2000, -0.418),
]

# arrow drawn with DejaVu Sans (thin spaces either side), closer to the original glyph
arrow = '<span style="font-family:DejaVu Sans">\u2009\u2192\u2009</span>'
series_names = ['SA-RL,1' + arrow + '0', 'SA-RL, 1' + arrow + '0.05', 'RL, 0.1', 'RL, 0.2', 'Random']
series_data = [sarl_1_to_0, sarl_1_to_005, rl_01, rl_02, random_policy]
series_colors = ['#FF0000', '#DC7F00', '#FF99CC', '#4DBEEE', '#77AC30']

x_ticks = [0, 500, 1000, 1500, 2000]
y_ticks = [0, -0.1, -0.2, -0.3, -0.4, -0.5, -0.6]
y_tick_labels = ['0', '-0.1', '-0.2', '-0.3', '-0.4', '-0.5', '-0.6']

axis_color = '#262626'
font_family = 'Liberation Sans, Arial, Helvetica, sans-serif'

fig = go.Figure()
for i, (name, data, color) in enumerate(zip(series_names, series_data, series_colors)):
    rounds, reward = zip(*data)
    fig.add_trace(go.Scatter(x=list(rounds), y=list(reward), mode='lines', name=name,
                             legendgroup='g%d' % i, line=dict(color=color, width=2)))

fig.update_layout(
    width=1898, height=1440,
    margin=dict(l=188, r=79, t=28, b=183),
    paper_bgcolor='white', plot_bgcolor='white',
    font=dict(family=font_family, color=axis_color, size=49),
    showlegend=True,
    legend=dict(
        x=0.6891, xanchor='left', y=0.679, yanchor='top',
        bgcolor='rgba(0,0,0,0)', borderwidth=0,
        font=dict(family=font_family, size=44, color='black'),
        itemwidth=158, tracegroupgap=2,
    ),
    # legend frame (MATLAB-style box against the right axis)
    shapes=[dict(type='rect', xref='paper', yref='paper', x0=0.6738, x1=1, y0=0.4142, y1=0.6786,
                 line=dict(color=axis_color, width=2), fillcolor='white', layer='above')],
)

fig.update_xaxes(
    range=[0, 2000], tickvals=x_ticks, ticks='inside', ticklen=17, tickwidth=2, tickcolor=axis_color,
    showline=True, linewidth=2, linecolor=axis_color, mirror='ticks', showgrid=False, zeroline=False,
    tickfont=dict(size=49, color=axis_color), ticklabelstandoff=11, automargin=False,
    title=dict(text='Data transmission rounds', font=dict(size=56, color=axis_color), standoff=27),
)
fig.update_yaxes(
    range=[-0.6, 0], tickvals=y_ticks, ticktext=y_tick_labels, ticks='inside', ticklen=17, tickwidth=2,
    tickcolor=axis_color, showline=True, linewidth=2, linecolor=axis_color, mirror='ticks', showgrid=False,
    zeroline=False, tickfont=dict(size=49, color=axis_color), ticklabelstandoff=11, automargin=False,
    title=dict(text='Reward', font=dict(size=56, color=axis_color), standoff=13),
)

fig.write_html('out.html')
